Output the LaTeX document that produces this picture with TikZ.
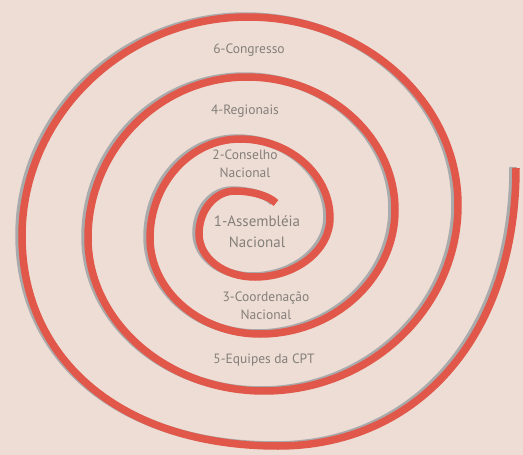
\documentclass[tikz,border=0pt]{standalone}
\usepackage{fontspec}
\setmainfont{PT Sans}
\definecolor{paper}{HTML}{EEDDD4}
\definecolor{spiralred}{HTML}{E1574A}
\definecolor{shadowgray}{HTML}{9EA2A4}
\definecolor{labelgray}{HTML}{847F7B}
\tikzset{
  spiralline/.style={line width=7.5pt, draw=spiralred},
  shadowline/.style={line width=7.5pt, draw=shadowgray, opacity=0.85},
  lbl/.style={text=labelgray, font=\fontsize{13.5}{18}\selectfont, align=center, inner sep=0pt},
  biglbl/.style={text=labelgray, font=\fontsize{15}{21}\selectfont, align=center, inner sep=0pt}
}
\newcommand{\spiralpath}{%
  (E) .. controls (268,195) and (250,191) .. (T1)
  .. controls +(-20,0) and +(0,-24) .. (L1)
  .. controls +(0,24) and +(-31,0) .. (B1)
  .. controls +(41,0) and +(0,32) .. (R1)
  .. controls +(0,-43) and +(50,0) .. (T2)
  .. controls +(-50,0) and +(0,-54) .. (L2)
  .. controls +(0,53) and +(-60,0) .. (B2)
  .. controls +(74,0) and +(0,68) .. (R2)
  .. controls +(0,-73) and +(81,0) .. (T3)
  .. controls +(-87,0) and +(0,-89) .. (L3)
  .. controls +(0,84) and +(-97,0) .. (B3)
  .. controls +(107,0) and +(0,102) .. (R3)
  .. controls +(0,-103) and +(116,0) .. (T4)
  .. controls +(-124,0) and +(0,-120) .. (L4)
  .. controls +(0,125) and +(-155,0) .. (B4)
  .. controls +(141,0) and +(0,166) .. (R4)}
\begin{document}
\begin{tikzpicture}[x=1pt,y=-1pt]
\fill[paper] (0,0) rectangle (523,455);
\useasboundingbox (0,0) rectangle (523,455);
\coordinate (E)  at (276,203);
\coordinate (T1) at (235,191);
\coordinate (L1) at (199,234);
\coordinate (B1) at (255,277);
\coordinate (R1) at (330,218);
\coordinate (T2) at (240,139);
\coordinate (L2) at (150,238);
\coordinate (B2) at (260,334);
\coordinate (R2) at (395,210);
\coordinate (T3) at (247,77);
\coordinate (L3) at (88,238);
\coordinate (B3) at (264,391);
\coordinate (R3) at (458,205);
\coordinate (T4) at (248,17);
\coordinate (L4) at (22,236);
\coordinate (B4) at (278,446);
\coordinate (R4) at (516,168);
\begin{scope}[transform canvas={shift={(-3,-1)}}]
\draw[shadowline] \spiralpath;
\end{scope}
\draw[spiralline] \spiralpath;
\node[lbl] (n6) at (249,50) {6-Congresso};
\node[lbl] (n4) at (245,111) {4-Regionais};
\node[lbl] (n2) at (245,164) {2-Conselho\\Nacional};
\node[biglbl] (n1) at (257,232) {1-Assembléia\\Nacional};
\node[lbl] (n3) at (266,306) {3-Coordenação\\Nacional};
\node[lbl] (n5) at (264,360) {5-Equipes da CPT};
\end{tikzpicture}
\end{document}
